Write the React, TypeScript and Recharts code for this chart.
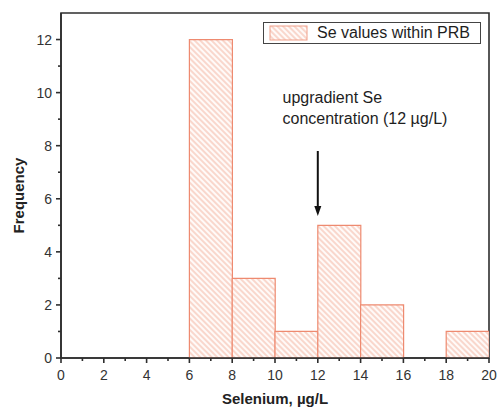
import React from 'react';
import { BarChart, Bar, XAxis, YAxis, Legend, ReferenceLine, ReferenceDot, ReferenceArea } from 'recharts';

// ---- data ----
const BIN_STARTS = [0, 2, 4, 6, 8, 10, 12, 14, 16, 18];
const BIN_ENDS = [2, 4, 6, 8, 10, 12, 14, 16, 18, 20];
const FREQUENCIES = [0, 0, 0, 12, 3, 1, 5, 2, 0, 1];
const X_TICKS = [0, 1, 2, 3, 4, 5, 6, 7, 8, 9, 10, 11, 12, 13, 14, 15, 16, 17, 18, 19, 20];
const Y_TICKS = [0, 1, 2, 3, 4, 5, 6, 7, 8, 9, 10, 11, 12];
const X_DOMAIN = [0, 20];
const Y_DOMAIN = [0, 13];
const SERIES_NAME = 'Se values within PRB';
const ANNOTATION_LINES = ['upgradient Se', 'concentration (12 \u00b5g/L)'];
const ARROW_X = 12;
const ARROW_Y_FROM = 7.8;
const ARROW_Y_TO = 5.35;
const ANNOTATION_X = 10.35;
const ANNOTATION_Y = 9.6;

const data = BIN_STARTS.map((s, i) => ({ mid: (s + BIN_ENDS[i]) / 2, freq: FREQUENCIES[i] }));

const FONT = '"Liberation Sans", Arial, Helvetica, sans-serif';
const AXIS_COLOR = '#2e2e2e';
const BAR_STROKE = '#ee8a70';
const HATCH = '#f5bba9';

const XTick = (props: any) => {
  const { x, y, payload } = props;
  const v = payload.value;
  const major = v % 2 === 0;
  return (
    <g>
      <line x1={x} x2={x} y1={y} y2={y + (major ? 5 : 3)} stroke={AXIS_COLOR} strokeWidth={1.6} />
      {major && (
        <text x={x} y={y + 22} textAnchor="middle" fontSize={14} fill="#333" fontFamily={FONT}>
          {v}
        </text>
      )}
    </g>
  );
};

const YTick = (props: any) => {
  const { x, y, payload } = props;
  const v = payload.value;
  const major = v % 2 === 0;
  return (
    <g>
      <line x1={x} x2={x - (major ? 5 : 3)} y1={y} y2={y} stroke={AXIS_COLOR} strokeWidth={1.6} />
      {major && (
        <text x={x - 9} y={y} dy="0.36em" textAnchor="end" fontSize={14} fill="#333" fontFamily={FONT}>
          {v}
        </text>
      )}
    </g>
  );
};

const ArrowShape = (props: any) => {
  const x1 = props.x1 ?? props.points?.[0]?.x;
  const y1 = props.y1 ?? props.points?.[0]?.y;
  const x2 = props.x2 ?? props.points?.[1]?.x;
  const y2 = props.y2 ?? props.points?.[1]?.y;
  if (x1 == null) return null;
  const headLen = 10;
  const headHalf = 3.5;
  return (
    <g>
      <line x1={x1} y1={y1} x2={x2} y2={y2 - headLen + 1} stroke="#111" strokeWidth={2} />
      <polygon points={`${x2 - headHalf},${y2 - headLen} ${x2 + headHalf},${y2 - headLen} ${x2},${y2}`} fill="#111" />
    </g>
  );
};

const AnnotationLabel = (props: any) => {
  const vb = props.viewBox || {};
  const x = vb.cx ?? vb.x;
  const y = vb.cy ?? vb.y;
  if (x == null || y == null) return null;
  return (
    <text x={x} y={y} fontSize={16} fill="#1e1e1e" fontFamily={FONT}>
      <tspan x={x} y={y}>{ANNOTATION_LINES[0]}</tspan>
      <tspan x={x} y={y + 21}>{ANNOTATION_LINES[1]}</tspan>
    </text>
  );
};

const LegendContent = () => (
  <div
    style={{
      boxSizing: 'border-box',
      width: 218,
      height: 22,
      border: '1.5px solid #444',
      display: 'flex',
      alignItems: 'center',
      background: '#fff',
      fontFamily: FONT,
      fontSize: 16,
      color: '#1e1e1e',
      whiteSpace: 'nowrap',
    }}
  >
    <svg width={44} height={16} style={{ marginLeft: 5, marginRight: 4 }}>
      <rect x={1} y={1} width={37} height={14} fill="url(#hatchFill)" stroke="#f0a08a" strokeWidth={1} />
    </svg>
    <span>{SERIES_NAME}</span>
  </div>
);

export default function App() {
  return (
    <div style={{ position: 'absolute', left: 0, top: 0, width: 497, height: 409, background: '#fff' }}>
      <svg width={0} height={0} style={{ position: 'absolute' }}>
        <defs>
          <pattern id="hatchFill" patternUnits="userSpaceOnUse" width={4} height={4} patternTransform="rotate(-45)">
            <rect x={0} y={0} width={4} height={4} fill="#fffaf8" />
            <line x1={1} y1={0} x2={1} y2={4} stroke={HATCH} strokeWidth={1.1} />
          </pattern>
        </defs>
      </svg>
      <BarChart
        width={497}
        height={409}
        data={data}
        barCategoryGap={0}
        barGap={0}
        margin={{ top: 13, right: 8, bottom: 0, left: 0 }}
      >
        <XAxis
          dataKey="mid"
          type="number"
          domain={X_DOMAIN}
          ticks={X_TICKS}
          interval={0}
          allowDataOverflow
          height={51}
          tickSize={0}
          tickMargin={0}
          tickLine={false}
          tick={<XTick />}
          axisLine={{ stroke: AXIS_COLOR, strokeWidth: 1.6 }}
          label={{
            value: 'Selenium, \u00b5g/L',
            position: 'insideBottom',
            offset: 5,
            fontSize: 15,
            fontWeight: 'bold',
            fill: '#222',
            fontFamily: FONT,
          }}
        />
        <YAxis
          type="number"
          domain={Y_DOMAIN}
          ticks={Y_TICKS}
          interval={0}
          allowDataOverflow
          width={61}
          tickSize={0}
          tickMargin={0}
          tickLine={false}
          tick={<YTick />}
          axisLine={{ stroke: AXIS_COLOR, strokeWidth: 1.6 }}
          label={{
            content: (p: any) => {
              const vb = p.viewBox || {};
              const cx = vb.x + 18;
              const cy = vb.y + vb.height / 2 + 10;
              return (
                <text
                  x={cx}
                  y={cy}
                  transform={`rotate(-90, ${cx}, ${cy})`}
                  textAnchor="middle"
                  dominantBaseline="central"
                  fontSize={15}
                  fontWeight="bold"
                  fill="#222"
                  fontFamily={FONT}
                >
                  Frequency
                </text>
              );
            },
          }}
        />
        <Legend
          layout="vertical"
          align="center"
          verticalAlign="middle"
          wrapperStyle={{ left: 263, top: 22, width: 218, height: 22 }}
          content={<LegendContent />}
        />
        <Bar
          dataKey="freq"
          name={SERIES_NAME}
          fill="url(#hatchFill)"
          stroke={BAR_STROKE}
          strokeWidth={1.2}
          isAnimationActive={false}
        />
        <ReferenceArea
          x1={X_DOMAIN[0]}
          x2={X_DOMAIN[1]}
          y1={Y_DOMAIN[0]}
          y2={Y_DOMAIN[1]}
          fill="none"
          fillOpacity={0}
          stroke={AXIS_COLOR}
          strokeWidth={1.6}
        />
        <ReferenceLine
          segment={[
            { x: ARROW_X, y: ARROW_Y_FROM },
            { x: ARROW_X, y: ARROW_Y_TO },
          ]}
          shape={<ArrowShape />}
        />
        <ReferenceDot
          x={ANNOTATION_X}
          y={ANNOTATION_Y}
          r={0}
          fill="none"
          stroke="none"
          label={{ content: <AnnotationLabel /> }}
        />
      </BarChart>
    </div>
  );
}
